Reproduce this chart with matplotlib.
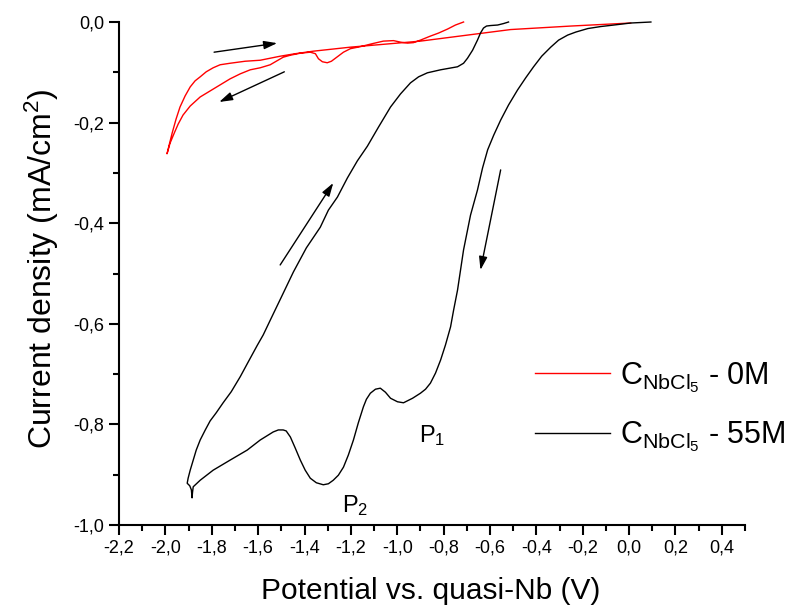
import matplotlib
matplotlib.use('Agg')
import matplotlib.pyplot as plt
from matplotlib.ticker import FixedLocator, MultipleLocator

plt.rcParams['font.family'] = ['Liberation Sans', 'DejaVu Sans']
plt.rcParams['mathtext.default'] = 'regular'

# CV without NbCl5 (0M): scan from -0.71 V down to -2.0 V and back to 0 V
v_0m = [-0.714, -0.749, -0.783, -0.822, -0.857, -0.900, -0.930, -0.956, -0.986,
        -1.016, -1.060, -1.107, -1.159, -1.202, -1.232, -1.258, -1.284, -1.302,
        -1.323, -1.340, -1.353, -1.375, -1.418, -1.461, -1.492, -1.522, -1.548,
        -1.591, -1.634, -1.677, -1.721, -1.764, -1.807, -1.850, -1.893, -1.924,
        -1.945, -1.962, -1.980, -1.993,
        -1.984, -1.971, -1.954, -1.937, -1.915, -1.893, -1.872, -1.850, -1.824,
        -1.794, -1.764, -1.721, -1.656, -1.591, -1.548, -1.505, -1.440, -1.362,
        -1.202, -0.900, -0.511, -0.250, 0.007]
i_0m = [0.000, -0.006, -0.014, -0.022, -0.028, -0.036, -0.041, -0.042, -0.040,
        -0.037, -0.038, -0.043, -0.049, -0.053, -0.060, -0.069, -0.078, -0.081,
        -0.079, -0.073, -0.063, -0.060, -0.062, -0.066, -0.070, -0.078, -0.085,
        -0.091, -0.095, -0.103, -0.113, -0.125, -0.137, -0.149, -0.167, -0.185,
        -0.203, -0.221, -0.241, -0.262,
        -0.245, -0.221, -0.193, -0.169, -0.147, -0.129, -0.117, -0.109, -0.099,
        -0.091, -0.085, -0.082, -0.078, -0.076, -0.072, -0.068, -0.063, -0.058,
        -0.050, -0.038, -0.015, -0.008, -0.002]

# CV with NbCl5 (55M): scan from 0.1 V down to -1.9 V and back to -0.52 V
v_55m = [0.094, 0.007, -0.066, -0.122, -0.178, -0.230, -0.265, -0.304, -0.338,
         -0.377, -0.412, -0.446, -0.481, -0.520, -0.554, -0.584, -0.610, -0.632,
         -0.654, -0.684, -0.714, -0.727, -0.740, -0.757, -0.770, -0.792, -0.813,
         -0.835, -0.857, -0.878, -0.900, -0.934, -0.973, -0.999, -1.029, -1.051,
         -1.073, -1.094, -1.116, -1.133, -1.146, -1.168, -1.189, -1.211, -1.232,
         -1.254, -1.276, -1.297, -1.319, -1.349, -1.375, -1.397, -1.418, -1.440,
         -1.461, -1.479, -1.492, -1.513, -1.535, -1.591, -1.647, -1.721, -1.794,
         -1.850, -1.880, -1.883, -1.885, -1.888, -1.895, -1.906,
         -1.902, -1.893, -1.880, -1.867, -1.850, -1.828, -1.807, -1.781, -1.751,
         -1.716, -1.677, -1.643, -1.604, -1.578, -1.548, -1.500, -1.448, -1.392,
         -1.332, -1.297, -1.258, -1.215, -1.172, -1.129, -1.081, -1.029, -0.986,
         -0.943, -0.908, -0.870, -0.813, -0.740, -0.714, -0.697, -0.675, -0.654,
         -0.641, -0.628, -0.615, -0.597, -0.567, -0.541, -0.520]
i_55m = [0.000, -0.002, -0.006, -0.009, -0.013, -0.020, -0.026, -0.036, -0.050,
         -0.068, -0.089, -0.111, -0.135, -0.165, -0.195, -0.225, -0.254, -0.290,
         -0.334, -0.384, -0.453, -0.493, -0.533, -0.573, -0.606, -0.642, -0.672,
         -0.698, -0.718, -0.730, -0.738, -0.748, -0.757, -0.755, -0.748, -0.736,
         -0.728, -0.730, -0.738, -0.750, -0.765, -0.797, -0.831, -0.861, -0.885,
         -0.901, -0.911, -0.918, -0.920, -0.916, -0.907, -0.891, -0.871, -0.847,
         -0.825, -0.813, -0.811, -0.811, -0.815, -0.831, -0.851, -0.871, -0.891,
         -0.911, -0.924, -0.935, -0.946, -0.930, -0.922, -0.917,
         -0.907, -0.891, -0.871, -0.851, -0.831, -0.811, -0.793, -0.777, -0.757,
         -0.735, -0.705, -0.676, -0.643, -0.622, -0.593, -0.547, -0.497, -0.449,
         -0.408, -0.374, -0.348, -0.310, -0.276, -0.247, -0.209, -0.169, -0.143,
         -0.121, -0.109, -0.101, -0.095, -0.089, -0.082, -0.072, -0.056, -0.036,
         -0.022, -0.012, -0.008, -0.007, -0.006, -0.003, 0.000]

# scan direction arrows: (tail V, tail I, head V, head I)
arrows = [(-1.790, -0.060, -1.518, -0.042),
          (-1.487, -0.099, -1.768, -0.159),
          (-1.505, -0.483, -1.276, -0.320),
          (-0.554, -0.294, -0.641, -0.493)]

xticks = [-2.2, -2.0, -1.8, -1.6, -1.4, -1.2, -1.0, -0.8, -0.6, -0.4, -0.2, 0.0, 0.2, 0.4]
yticks = [0.0, -0.2, -0.4, -0.6, -0.8, -1.0]

fig = plt.figure(figsize=(7.93, 6.08), dpi=100)
ax = fig.add_axes([0.1501, 0.1365, 0.7894, 0.8273])

ax.plot(v_0m, i_0m, color='red', lw=1.0, clip_on=False,
        label=r'$C_{NbCl_5}$ - 0M')
ax.plot(v_55m, i_55m, color='black', lw=1.0, clip_on=False,
        label=r'$C_{NbCl_5}$ - 55M')

for tv, ti, hv, hi in arrows:
    ax.annotate('', xy=(hv, hi), xytext=(tv, ti),
                arrowprops=dict(arrowstyle='-|>,head_length=0.8,head_width=0.25',
                                color='black', lw=1.0, shrinkA=0, shrinkB=0,
                                mutation_scale=10))

ax.text(-0.908, -0.835, r'P$_1$', fontsize=17, ha='left', va='baseline')
ax.text(-1.237, -0.974, r'P$_2$', fontsize=17, ha='left', va='baseline')

ax.set_xlim(-2.2, 0.5)
ax.set_ylim(-1.0, 0.0)
ax.xaxis.set_major_locator(FixedLocator(xticks))
ax.set_xticklabels([('%.1f' % t).replace('.', ',') for t in xticks])
ax.xaxis.set_minor_locator(MultipleLocator(0.1))
ax.yaxis.set_major_locator(FixedLocator(yticks))
ax.set_yticklabels([('%.1f' % t).replace('.', ',') for t in yticks])
ax.yaxis.set_minor_locator(MultipleLocator(0.1))

for side in ['top', 'right']:
    ax.spines[side].set_visible(False)
for side in ['left', 'bottom']:
    ax.spines[side].set_linewidth(1.5)
ax.tick_params(which='major', direction='out', length=7, width=1.5, labelsize=13)
ax.tick_params(which='minor', direction='out', length=4, width=1.5)

ax.set_xlabel('Potential vs. quasi-Nb (V)', fontsize=21.5)
ax.set_ylabel(r'Current density (mA/cm$^2$)', fontsize=23)
ax.xaxis.set_label_coords(0.498, -0.103)
ax.yaxis.set_label_coords(-0.093, 0.509)

ax.legend(loc='upper left', bbox_to_anchor=(0.621, 0.383), frameon=False,
          fontsize=22, handlelength=2.45, handletextpad=0.33, labelspacing=0.82)

fig.savefig('out.png', dpi=100)
